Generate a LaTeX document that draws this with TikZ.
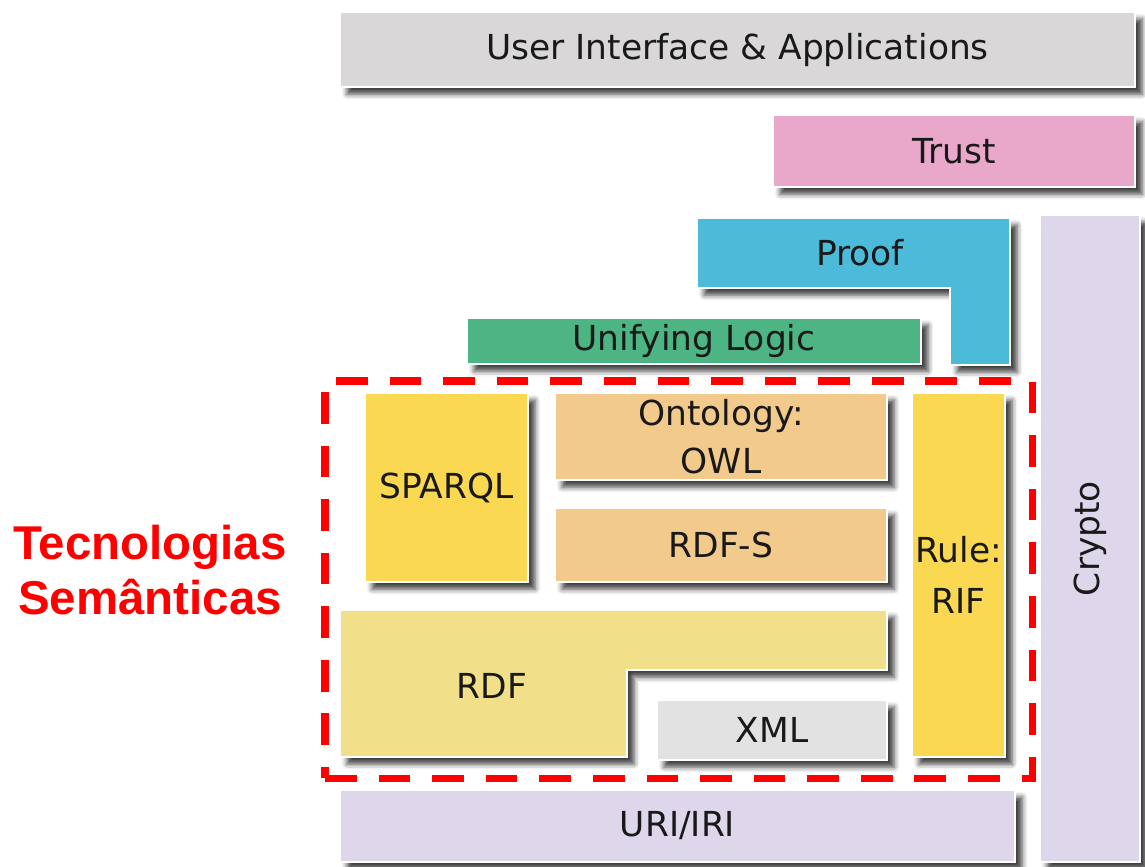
\documentclass[tikz,border=0pt]{standalone}
\usepackage{fontspec}
\setmainfont{DejaVu Sans}
\newfontfamily\redfont{Liberation Sans}
\usetikzlibrary{fit,shadows.blur}
\definecolor{uigray}{HTML}{D9D7D7}
\definecolor{trustpink}{HTML}{E9A7C9}
\definecolor{proofblue}{HTML}{4CBBD9}
\definecolor{logicgreen}{HTML}{4DB583}
\definecolor{cryptolilac}{HTML}{DED6EA}
\definecolor{sparqlyellow}{HTML}{FAD852}
\definecolor{owltan}{HTML}{F2CA8C}
\definecolor{rdfyellow}{HTML}{F1DF8A}
\definecolor{xmlgray}{HTML}{E2E2E2}
\definecolor{red}{HTML}{FF0000}

\begin{document}
\begin{tikzpicture}[x=0.02cm, y=-0.02cm,
  layer/.style={draw=white, line width=1.2pt, inner sep=0pt,
    blur shadow={shadow xshift=4pt, shadow yshift=-4pt, shadow opacity=75, shadow blur radius=3pt}},
  lbl/.style={font=\fontsize{19.6}{23}\selectfont, align=center, text=black!90}]
\useasboundingbox (0,0) rectangle (1145,866);

% TOP LAYERS
\node (ui) [layer, fill=uigray, fit={(340,12) (1135,87)}] {};
\node[lbl] at (ui) {User Interface \& Applications};
\node (trust) [layer, fill=trustpink, fit={(773,115) (1135,187)}] {};
\node[lbl] at (trust) {Trust};
% proof is an L
\draw[layer, fill=proofblue] (697,218) -- (1010,218) -- (1010,365) -- (950,365) -- (950,288) -- (697,288) -- cycle;
\coordinate (proof) at (860,253);
\node[lbl] at (proof) {Proof};
\node (logic) [layer, fill=logicgreen, fit={(467,318) (921,364)}] {};
\node[lbl] at (logic) {Unifying Logic};
\node (crypto) [layer, fill=cryptolilac, fit={(1040,215) (1140,862)}] {};
\node[lbl, rotate=90] at (crypto) {Crypto};

% SEMANTIC LAYERS
\node (sparql) [layer, fill=sparqlyellow, fit={(365,393) (528,582)}] {};
\node[lbl] at (sparql) {SPARQL};
\node (owl) [layer, fill=owltan, fit={(555,393) (887,480)}] {};
\node[lbl, font=\fontsize{19.6}{27}\selectfont] at (owl) {Ontology:\\OWL};
\node (rdfs) [layer, fill=owltan, fit={(555,508) (887,582)}] {};
\node[lbl] at (rdfs) {RDF-S};
\node (rif) [layer, fill=sparqlyellow, fit={(912,393) (1005,757)}] {};
\node[lbl, font=\fontsize{19.6}{29}\selectfont] at (rif) {Rule:\\RIF};
% rdf is an L too
\draw[layer, fill=rdfyellow] (340,610) -- (887,610) -- (887,670) -- (627,670) -- (627,757) -- (340,757) -- cycle;
\coordinate (rdf) at (492,686);
\node[lbl] at (rdf) {RDF};
\node (xml) [layer, fill=xmlgray, fit={(657,700) (887,760)}] {};
\node[lbl] at (xml) {XML};
\node (uri) [layer, fill=cryptolilac, fit={(340,790) (1015,862)}] {};
\node[lbl] at (uri) {URI/IRI};

% dashed frame
\node (frame) [draw=red, line width=4pt, dash pattern=on 18pt off 12.5pt, inner sep=0pt, fit={(325,381) (1032,778)}] {};
\node (tec) [text=red, align=center, font=\redfont\bfseries\fontsize{27}{31}\selectfont] at (150,570) {Tecnologias\\Semânticas};

\end{tikzpicture}
\end{document}
